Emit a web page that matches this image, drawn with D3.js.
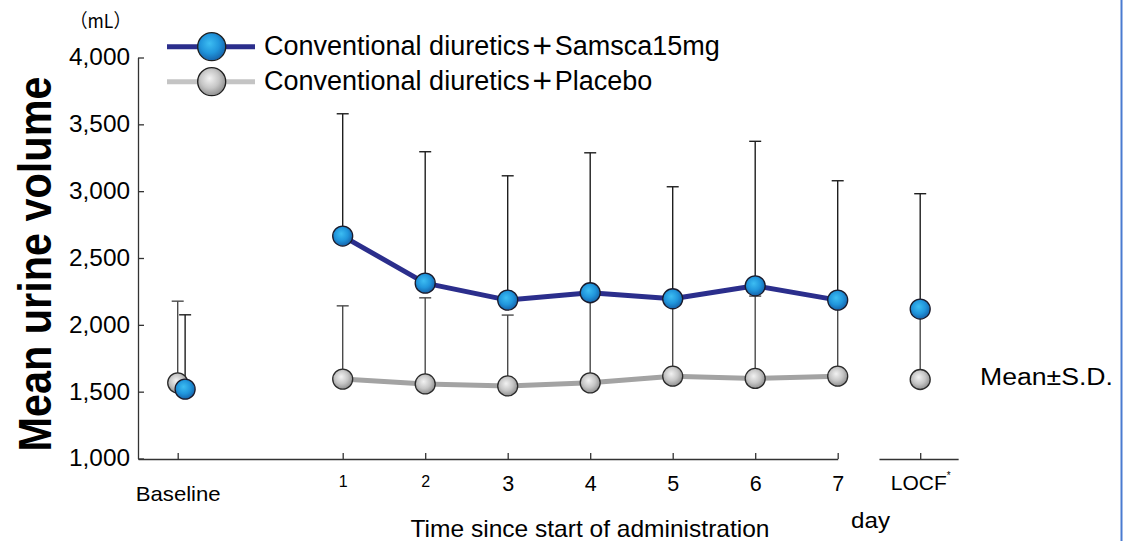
<!DOCTYPE html>
<html>
<head>
<meta charset="utf-8">
<script src="https://cdn.jsdelivr.net/npm/d3@7"></script>
<style>
  html, body { margin: 0; padding: 0; background: #fff; }
  text { font-family: "Liberation Sans", Arial, "Noto Sans CJK JP", sans-serif; fill: #000; }
</style>
</head>
<body>
<script>
// ---------------- data ----------------
const categories   = ["Baseline", "1", "2", "3", "4", "5", "6", "7", "LOCF"];
const dayIndex     = [-1, 1, 2, 3, 4, 5, 6, 7, 8];
const samscaMean   = [1519, 2664, 2312, 2185, 2240, 2195, 2292, 2185, 2118];
const samscaSD     = [556, 915, 983, 930, 1047, 838, 1081, 893, 863];
const placeboMean  = [1566, 1594, 1558, 1543, 1566, 1616, 1599, 1616, 1591];
const placeboSD    = [611, 548, 644, 530, 674, 584, 616, 574, 529];
const yTicks       = [1000, 1500, 2000, 2500, 3000, 3500, 4000];
const seriesPrefix = "Conventional diuretics";
const seriesSuffix = ["Samsca15mg", "Placebo"];

// ---------------- setup ----------------
const W = 1128, H = 541;
const svg = d3.select("body").append("svg").attr("width", W).attr("height", H);
svg.append("rect").attr("width", W).attr("height", H).attr("fill", "#fff");

const x = d3.scaleLinear().domain([-1, 8]).range([177.7, 920.2]);
const y = d3.scaleLinear().domain([1000, 4000]).range([458.5, 57.5]);

const defs = svg.append("defs");
function grad(id, stops) {
  const g = defs.append("radialGradient").attr("id", id)
    .attr("cx", "45%").attr("cy", "42%").attr("r", "60%").attr("fx", "42%").attr("fy", "38%");
  stops.forEach(s => g.append("stop").attr("offset", s[0]).attr("stop-color", s[1]));
}
grad("gBlue", [[0, "#3dbdf2"], [0.55, "#2196dc"], [1, "#1560a8"]]);
grad("gGrey", [[0, "#f2f2f2"], [0.55, "#c6c6c6"], [1, "#8c8c8c"]]);

const BLUE_LINE = "#2b2e8c", GREY_LINE = "#a3a3a3";

// blue baseline point sits slightly to the right of the grey one
const samscaPos  = dayIndex.map((d, i) => i === 0 ? d + 0.09 : d);
const placeboPos = dayIndex.slice();

// ---------------- axes ----------------
const yAxisG = svg.append("g").attr("transform", "translate(138,0)")
  .call(d3.axisLeft(y).tickValues(yTicks).tickFormat(d3.format(",")).tickSize(-6).tickSizeOuter(0).tickPadding(8));
yAxisG.selectAll("path, line").attr("stroke", "#333").attr("stroke-width", 1.3);
yAxisG.selectAll("text").style("font-size", "23px").attr("fill", "#000")
  .attr("textLength", 61).attr("lengthAdjust", "spacingAndGlyphs")
  .style("font-family", '"Liberation Sans", Arial, sans-serif');

const xMain = x.copy().domain([-1.48, 7]).range([x(-1.48), x(7)]);
const xLocf = x.copy().domain([7.5, 8.46]).range([x(7.5), x(8.46)]);

function styleXAxis(g) {
  g.selectAll("path, line").attr("stroke", "#333").attr("stroke-width", 1.3);
  g.selectAll("text").attr("dy", null).each(function(d) {
    const t = d3.select(this);
    const lab = categories[dayIndex.indexOf(d)];
    t.style("font-family", '"Liberation Sans", Arial, sans-serif').attr("fill", "#000");
    if (lab === "1" || lab === "2") { t.style("font-size", "16px").attr("y", 28); }
    else if (lab === "Baseline") { t.style("font-size", "21px").attr("y", 41.5).attr("textLength", 85).attr("lengthAdjust", "spacingAndGlyphs"); }
    else if (lab === "LOCF") {
      t.text(null).style("font-size", "21px").attr("y", 31);
      t.append("tspan").text("LOCF");
      t.append("tspan").text("*").style("font-size", "10px").attr("dy", -11);
    }
    else { t.style("font-size", "21.5px").attr("y", 32); }
  });
}
const xAxisMain = svg.append("g").attr("transform", "translate(0,459)")
  .call(d3.axisBottom(xMain).tickValues(dayIndex.slice(0, 8)).tickSize(-6).tickSizeOuter(0)
    .tickFormat(d => categories[dayIndex.indexOf(d)]));
styleXAxis(xAxisMain);
const xAxisLocf = svg.append("g").attr("transform", "translate(0,459)")
  .call(d3.axisBottom(xLocf).tickValues([8]).tickSize(-6).tickSizeOuter(0)
    .tickFormat(d => categories[dayIndex.indexOf(d)]));
styleXAxis(xAxisLocf);

// axis titles
svg.append("text").attr("x", 590).attr("y", 537).attr("text-anchor", "middle")
  .style("font-size", "24px").attr("textLength", 359).attr("lengthAdjust", "spacingAndGlyphs")
  .text("Time since start of administration");
svg.append("text").attr("x", 851).attr("y", 528).style("font-size", "22px")
  .attr("textLength", 39).attr("lengthAdjust", "spacingAndGlyphs").text("day");
svg.append("text").attr("transform", "translate(51,264) rotate(-90)").attr("text-anchor", "middle")
  .style("font-size", "46px").style("font-weight", "bold")
  .attr("textLength", 375).attr("lengthAdjust", "spacingAndGlyphs")
  .text("Mean urine volume");
svg.append("text").attr("x", 70).attr("y", 28).style("font-size", "19px")
  .style("font-family", '"Noto Sans CJK JP", "Liberation Sans", sans-serif')
  .attr("textLength", 61).attr("lengthAdjust", "spacingAndGlyphs")
  .text("\uFF08mL\uFF09");
svg.append("text").attr("x", 980).attr("y", 385).style("font-size", "23px")
  .attr("textLength", 133).attr("lengthAdjust", "spacingAndGlyphs").text("Mean\u00B1S.D.");

// ---------------- error bars ----------------
function errorBars(pos, mean, sd, color, cls) {
  const g = svg.append("g").attr("class", cls).attr("stroke", color).attr("stroke-width", 1.4);
  const idx = d3.range(mean.length);
  g.selectAll("line.v").data(idx).join("line").attr("class", "v")
    .attr("x1", i => x(pos[i])).attr("x2", i => x(pos[i]))
    .attr("y1", i => y(mean[i])).attr("y2", i => y(mean[i] + sd[i]));
  g.selectAll("line.c").data(idx).join("line").attr("class", "c")
    .attr("x1", i => x(pos[i]) - 6).attr("x2", i => x(pos[i]) + 6)
    .attr("y1", i => y(mean[i] + sd[i])).attr("y2", i => y(mean[i] + sd[i]));
}
errorBars(placeboPos, placeboMean, placeboSD, "#4a4a4a", "eb-placebo");
errorBars(samscaPos, samscaMean, samscaSD, "#1e1e1e", "eb-samsca");

// ---------------- lines ----------------
const lineIdx = [1, 2, 3, 4, 5, 6, 7];
const lineGen = (pos, mean) => d3.line().x(i => x(pos[i])).y(i => y(mean[i]));
svg.append("path").datum(lineIdx).attr("d", lineGen(placeboPos, placeboMean))
  .attr("fill", "none").attr("stroke", GREY_LINE).attr("stroke-width", 5).attr("stroke-linejoin", "round");
svg.append("path").datum(lineIdx).attr("d", lineGen(samscaPos, samscaMean))
  .attr("fill", "none").attr("stroke", BLUE_LINE).attr("stroke-width", 5).attr("stroke-linejoin", "round");

// ---------------- markers ----------------
function markers(pos, mean, fill, stroke) {
  svg.append("g").selectAll("circle").data(d3.range(mean.length)).join("circle")
    .attr("cx", i => x(pos[i])).attr("cy", i => y(mean[i])).attr("r", 10)
    .attr("fill", fill).attr("stroke", stroke).attr("stroke-width", 1.3);
}
markers(placeboPos, placeboMean, "url(#gGrey)", "#2a2a2a");
markers(samscaPos, samscaMean, "url(#gBlue)", "#1a1a2a");

// ---------------- legend ----------------
const legend = svg.append("g");
const legendRows = [
  { suffix: seriesSuffix[0], line: BLUE_LINE, fill: "url(#gBlue)", y: 46.7 },
  { suffix: seriesSuffix[1], line: "#c4c4c4", fill: "url(#gGrey)", y: 81.7 }
];
legendRows.forEach(r => {
  legend.append("line").attr("x1", 167).attr("x2", 255).attr("y1", r.y).attr("y2", r.y)
    .attr("stroke", r.line).attr("stroke-width", 5);
  legend.append("circle").attr("cx", 211.7).attr("cy", r.y).attr("r", 14)
    .attr("fill", r.fill).attr("stroke", "#1e1e1e").attr("stroke-width", 1.3);
  const base = r.y + 8.5;
  const t1 = legend.append("text").attr("x", 264).attr("y", base).style("font-size", "27px").text(seriesPrefix);
  const w1 = t1.node().getComputedTextLength();
  const t2 = legend.append("text").attr("x", 264 + w1 + 1).attr("y", base - 1)
    .style("font-size", "23px").style("font-weight", "bold")
    .style("font-family", '"Noto Sans CJK JP", sans-serif').text("\uFF0B");
  const w2 = t2.node().getComputedTextLength();
  legend.append("text").attr("x", 264 + w1 + 1 + w2 + 1).attr("y", base).style("font-size", "27px").text(r.suffix);
});

// right border
svg.append("line").attr("x1", 1121.5).attr("x2", 1121.5).attr("y1", 0).attr("y2", H)
  .attr("stroke", "#4a7bd0").attr("stroke-width", 2);
</script>
</body>
</html>
